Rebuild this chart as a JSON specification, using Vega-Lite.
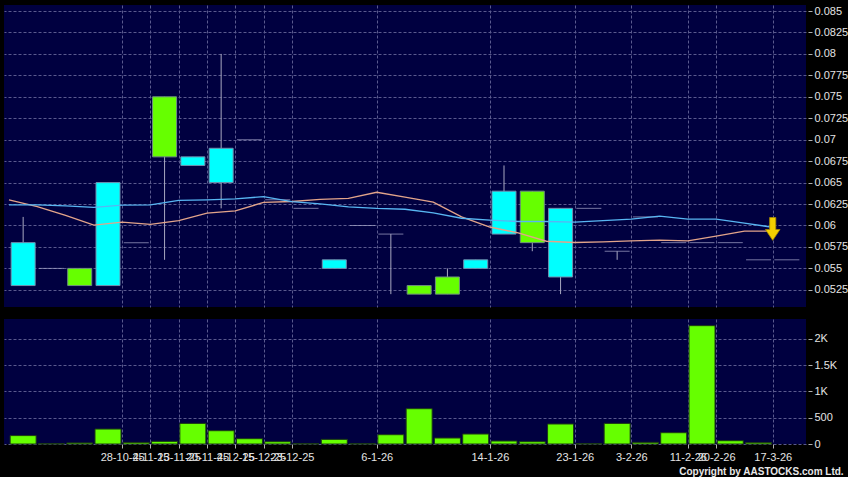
{
  "$schema": "https://vega.github.io/schema/vega-lite/v6.json",
  "background": "#000000",
  "padding": {"left": 4, "top": 5, "right": 0, "bottom": 0},
  "autosize": {"type": "pad"},
  "title": {"text": "Copyright by AASTOCKS.com Ltd.", "orient": "bottom", "anchor": "end", "font": "Liberation Sans", "fontSize": 10, "fontWeight": "bold", "color": "#e8e8e8", "offset": 5, "dx": -4},
  "config": {
    "view": {"fill": "#000040", "stroke": null},
    "axis": {"gridColor": "#5a5a8e", "gridDash": [3, 2], "gridWidth": 1, "labelColor": "#e4e4e4", "labelFont": "Liberation Sans", "labelFontSize": 11, "tickColor": "#b0b0b0", "domain": false, "title": null}
  },
  "datasets": {
    "candles": [
      {"i": 0, "o": 0.058, "h": 0.061, "l": 0.053, "c": 0.053},
      {"i": 1, "o": 0.055, "h": 0.055, "l": 0.055, "c": 0.055},
      {"i": 2, "o": 0.053, "h": 0.055, "l": 0.053, "c": 0.055},
      {"i": 3, "o": 0.065, "h": 0.065, "l": 0.053, "c": 0.053},
      {"i": 4, "o": 0.058, "h": 0.058, "l": 0.058, "c": 0.058},
      {"i": 5, "o": 0.068, "h": 0.075, "l": 0.056, "c": 0.075},
      {"i": 6, "o": 0.068, "h": 0.068, "l": 0.067, "c": 0.067},
      {"i": 7, "o": 0.069, "h": 0.080, "l": 0.062, "c": 0.065},
      {"i": 8, "o": 0.070, "h": 0.070, "l": 0.070, "c": 0.070},
      {"i": 9, "o": 0.063, "h": 0.063, "l": 0.063, "c": 0.063},
      {"i": 10, "o": 0.062, "h": 0.062, "l": 0.062, "c": 0.062},
      {"i": 11, "o": 0.056, "h": 0.056, "l": 0.055, "c": 0.055},
      {"i": 12, "o": 0.060, "h": 0.060, "l": 0.060, "c": 0.060},
      {"i": 13, "o": 0.059, "h": 0.059, "l": 0.052, "c": 0.059},
      {"i": 14, "o": 0.052, "h": 0.053, "l": 0.052, "c": 0.053},
      {"i": 15, "o": 0.052, "h": 0.055, "l": 0.052, "c": 0.054},
      {"i": 16, "o": 0.056, "h": 0.056, "l": 0.055, "c": 0.055},
      {"i": 17, "o": 0.064, "h": 0.067, "l": 0.059, "c": 0.059},
      {"i": 18, "o": 0.058, "h": 0.064, "l": 0.057, "c": 0.064},
      {"i": 19, "o": 0.062, "h": 0.062, "l": 0.052, "c": 0.054},
      {"i": 20, "o": 0.062, "h": 0.062, "l": 0.062, "c": 0.062},
      {"i": 21, "o": 0.057, "h": 0.057, "l": 0.056, "c": 0.057},
      {"i": 22, "o": 0.061, "h": 0.061, "l": 0.061, "c": 0.061},
      {"i": 23, "o": 0.058, "h": 0.058, "l": 0.058, "c": 0.058},
      {"i": 24, "o": 0.058, "h": 0.058, "l": 0.058, "c": 0.058},
      {"i": 25, "o": 0.058, "h": 0.058, "l": 0.058, "c": 0.058},
      {"i": 26, "o": 0.056, "h": 0.056, "l": 0.056, "c": 0.056},
      {"i": 27, "o": 0.056, "h": 0.056, "l": 0.056, "c": 0.056}
    ],
    "vol": [
      {"i": 0, "v": 160}, {"i": 1, "v": 5}, {"i": 2, "v": 20}, {"i": 3, "v": 285},
      {"i": 4, "v": 30}, {"i": 5, "v": 50}, {"i": 6, "v": 392}, {"i": 7, "v": 253},
      {"i": 8, "v": 101}, {"i": 9, "v": 44}, {"i": 10, "v": 5}, {"i": 11, "v": 88},
      {"i": 12, "v": 4}, {"i": 13, "v": 177}, {"i": 14, "v": 672}, {"i": 15, "v": 114},
      {"i": 16, "v": 190}, {"i": 17, "v": 57}, {"i": 18, "v": 44}, {"i": 19, "v": 381},
      {"i": 20, "v": 5}, {"i": 21, "v": 392}, {"i": 22, "v": 31}, {"i": 23, "v": 215},
      {"i": 24, "v": 2253}, {"i": 25, "v": 63}, {"i": 26, "v": 25}
    ],
    "ma": [
      {"i": -0.5, "s": "blue", "ma": 0.06240}, {"i": 0.5, "s": "blue", "ma": 0.06240},
      {"i": 1.5, "s": "blue", "ma": 0.06229}, {"i": 2.5, "s": "blue", "ma": 0.06211},
      {"i": 3.5, "s": "blue", "ma": 0.06237}, {"i": 4.5, "s": "blue", "ma": 0.06240},
      {"i": 5.5, "s": "blue", "ma": 0.06293}, {"i": 6.5, "s": "blue", "ma": 0.06299},
      {"i": 7.5, "s": "blue", "ma": 0.06310}, {"i": 8.5, "s": "blue", "ma": 0.06337},
      {"i": 9.5, "s": "blue", "ma": 0.06278}, {"i": 10.5, "s": "blue", "ma": 0.06252},
      {"i": 11.5, "s": "blue", "ma": 0.06217}, {"i": 12.5, "s": "blue", "ma": 0.06199},
      {"i": 13.5, "s": "blue", "ma": 0.06190}, {"i": 14.5, "s": "blue", "ma": 0.06147},
      {"i": 15.5, "s": "blue", "ma": 0.06085}, {"i": 16.5, "s": "blue", "ma": 0.06062},
      {"i": 17.5, "s": "blue", "ma": 0.06046}, {"i": 18.5, "s": "blue", "ma": 0.06046},
      {"i": 19.5, "s": "blue", "ma": 0.06039}, {"i": 20.5, "s": "blue", "ma": 0.06057},
      {"i": 21.5, "s": "blue", "ma": 0.06074}, {"i": 22.5, "s": "blue", "ma": 0.06109},
      {"i": 23.5, "s": "blue", "ma": 0.06074}, {"i": 24.5, "s": "blue", "ma": 0.06074},
      {"i": 25.5, "s": "blue", "ma": 0.06027}, {"i": 26.5, "s": "blue", "ma": 0.05980},
      {"i": -0.5, "s": "orange", "ma": 0.06298}, {"i": 0.5, "s": "orange", "ma": 0.06220},
      {"i": 1.5, "s": "orange", "ma": 0.06118}, {"i": 2.5, "s": "orange", "ma": 0.06004},
      {"i": 3.5, "s": "orange", "ma": 0.06039}, {"i": 4.5, "s": "orange", "ma": 0.06013},
      {"i": 5.5, "s": "orange", "ma": 0.06057}, {"i": 6.5, "s": "orange", "ma": 0.06144},
      {"i": 7.5, "s": "orange", "ma": 0.06170}, {"i": 8.5, "s": "orange", "ma": 0.06269},
      {"i": 9.5, "s": "orange", "ma": 0.06279}, {"i": 10.5, "s": "orange", "ma": 0.06304},
      {"i": 11.5, "s": "orange", "ma": 0.06316}, {"i": 12.5, "s": "orange", "ma": 0.06388},
      {"i": 13.5, "s": "orange", "ma": 0.06330}, {"i": 14.5, "s": "orange", "ma": 0.06272},
      {"i": 15.5, "s": "orange", "ma": 0.06100}, {"i": 16.5, "s": "orange", "ma": 0.05982},
      {"i": 17.5, "s": "orange", "ma": 0.05914}, {"i": 18.5, "s": "orange", "ma": 0.05817},
      {"i": 19.5, "s": "orange", "ma": 0.05801}, {"i": 20.5, "s": "orange", "ma": 0.05809},
      {"i": 21.5, "s": "orange", "ma": 0.05821}, {"i": 22.5, "s": "orange", "ma": 0.05829},
      {"i": 23.5, "s": "orange", "ma": 0.05821}, {"i": 24.5, "s": "orange", "ma": 0.05876},
      {"i": 25.5, "s": "orange", "ma": 0.05934}, {"i": 26.5, "s": "orange", "ma": 0.05934}
    ],
    "arrow": [{"i": 26.5, "y": 0.0596}]
  },
  "vconcat": [
    {
      "width": 802,
      "height": 302,
      "encoding": {
        "x": {"field": "i", "type": "quantitative", "scale": {"domain": [-0.5, 27.5], "nice": false, "zero": false},
          "axis": {"values": [3.5, 4.5, 5.5, 6.5, 7.5, 8.5, 9.5, 12.5, 16.5, 19.5, 21.5, 23.5, 24.5, 26.5], "labels": false, "ticks": false, "grid": true, "domain": false, "title": null}}
      },
      "layer": [
        {
          "data": {"name": "candles"},
          "mark": {"type": "rule", "color": "#a8a8c0", "strokeWidth": 1},
          "encoding": {
            "y": {"field": "l", "type": "quantitative", "scale": {"domain": [0.0505, 0.0857], "nice": false, "zero": false},
              "axis": {"orient": "right", "values": [0.0525, 0.055, 0.0575, 0.06, 0.0625, 0.065, 0.0675, 0.07, 0.0725, 0.075, 0.0775, 0.08, 0.0825, 0.085], "format": ".4~f", "offset": 2, "tickSize": 4, "labelPadding": 2, "grid": true, "domain": false, "title": null}},
            "y2": {"field": "h"}
          }
        },
        {
          "data": {"name": "candles"},
          "transform": [{"filter": "datum.c > datum.o"}],
          "mark": {"type": "bar", "width": 24, "color": "#66ff00", "stroke": "#6f8f7f", "strokeWidth": 1},
          "encoding": {
            "y": {"field": "o", "type": "quantitative", "scale": {"domain": [0.0505, 0.0857], "nice": false, "zero": false},
              "axis": {"orient": "right", "values": [0.0525, 0.055, 0.0575, 0.06, 0.0625, 0.065, 0.0675, 0.07, 0.0725, 0.075, 0.0775, 0.08, 0.0825, 0.085], "format": ".4~f", "offset": 2, "tickSize": 4, "labelPadding": 2, "grid": true, "domain": false, "title": null}},
            "y2": {"field": "c"}
          }
        },
        {
          "data": {"name": "candles"},
          "transform": [{"filter": "datum.c < datum.o"}],
          "mark": {"type": "bar", "width": 24, "color": "#00ffff", "stroke": "#6f8faf", "strokeWidth": 1},
          "encoding": {
            "y": {"field": "o", "type": "quantitative", "scale": {"domain": [0.0505, 0.0857], "nice": false, "zero": false},
              "axis": {"orient": "right", "values": [0.0525, 0.055, 0.0575, 0.06, 0.0625, 0.065, 0.0675, 0.07, 0.0725, 0.075, 0.0775, 0.08, 0.0825, 0.085], "format": ".4~f", "offset": 2, "tickSize": 4, "labelPadding": 2, "grid": true, "domain": false, "title": null}},
            "y2": {"field": "c"}
          }
        },
        {
          "data": {"name": "candles"},
          "transform": [{"filter": "datum.c == datum.o"}],
          "mark": {"type": "tick", "orient": "horizontal", "size": 25, "thickness": 1, "color": "#a8a8cc"},
          "encoding": {
            "y": {"field": "o", "type": "quantitative", "scale": {"domain": [0.0505, 0.0857], "nice": false, "zero": false},
              "axis": {"orient": "right", "values": [0.0525, 0.055, 0.0575, 0.06, 0.0625, 0.065, 0.0675, 0.07, 0.0725, 0.075, 0.0775, 0.08, 0.0825, 0.085], "format": ".4~f", "offset": 2, "tickSize": 4, "labelPadding": 2, "grid": true, "domain": false, "title": null}}
          }
        },
        {
          "data": {"name": "ma"},
          "transform": [{"filter": "datum.s == 'orange'"}],
          "mark": {"type": "line", "color": "#e2a48a", "strokeWidth": 1.4},
          "encoding": {
            "y": {"field": "ma", "type": "quantitative", "scale": {"domain": [0.0505, 0.0857], "nice": false, "zero": false},
              "axis": {"orient": "right", "values": [0.0525, 0.055, 0.0575, 0.06, 0.0625, 0.065, 0.0675, 0.07, 0.0725, 0.075, 0.0775, 0.08, 0.0825, 0.085], "format": ".4~f", "offset": 2, "tickSize": 4, "labelPadding": 2, "grid": true, "domain": false, "title": null}}
          }
        },
        {
          "data": {"name": "ma"},
          "transform": [{"filter": "datum.s == 'blue'"}],
          "mark": {"type": "line", "color": "#58b6f2", "strokeWidth": 1.4},
          "encoding": {
            "y": {"field": "ma", "type": "quantitative", "scale": {"domain": [0.0505, 0.0857], "nice": false, "zero": false},
              "axis": {"orient": "right", "values": [0.0525, 0.055, 0.0575, 0.06, 0.0625, 0.065, 0.0675, 0.07, 0.0725, 0.075, 0.0775, 0.08, 0.0825, 0.085], "format": ".4~f", "offset": 2, "tickSize": 4, "labelPadding": 2, "grid": true, "domain": false, "title": null}}
          }
        },
        {
          "data": {"name": "arrow"},
          "mark": {"type": "point", "shape": "M-0.27,-1L0.27,-1L0.27,0.05L0.64,0.05L0,1L-0.64,0.05L-0.27,0.05Z", "size": 520, "filled": true, "fill": "#f4d000", "stroke": "#a88c00", "strokeWidth": 0.8, "opacity": 1},
          "encoding": {
            "y": {"field": "y", "type": "quantitative", "scale": {"domain": [0.0505, 0.0857], "nice": false, "zero": false},
              "axis": {"orient": "right", "values": [0.0525, 0.055, 0.0575, 0.06, 0.0625, 0.065, 0.0675, 0.07, 0.0725, 0.075, 0.0775, 0.08, 0.0825, 0.085], "format": ".4~f", "offset": 2, "tickSize": 4, "labelPadding": 2, "grid": true, "domain": false, "title": null}}
          }
        }
      ]
    },
    {
      "width": 802,
      "height": 125,
      "data": {"name": "vol"},
      "mark": {"type": "bar", "width": 26, "color": "#66ff00", "stroke": "#1c3a14", "strokeWidth": 1},
      "encoding": {
        "x": {"field": "i", "type": "quantitative", "scale": {"domain": [-0.5, 27.5], "nice": false, "zero": false},
          "axis": {"values": [3.5, 4.5, 5.5, 6.5, 7.5, 8.5, 9.5, 12.5, 16.5, 19.5, 21.5, 23.5, 24.5, 26.5],
            "labelExpr": "['28-10-25','4-11-25','13-11-25','20-11-25','4-12-25','15-12-25','23-12-25','6-1-26','14-1-26','23-1-26','3-2-26','11-2-26','20-2-26','17-3-26'][indexof([3.5,4.5,5.5,6.5,7.5,8.5,9.5,12.5,16.5,19.5,21.5,23.5,24.5,26.5], datum.value)]",
            "labelOverlap": false, "labelBound": false, "labelFlush": false, "tickSize": 4, "labelPadding": 3, "grid": true, "domain": false, "title": null}},
        "y": {"field": "v", "type": "quantitative", "scale": {"domain": [0, 2380], "nice": false},
          "axis": {"orient": "right", "values": [0, 500, 1000, 1500, 2000], "labelExpr": "datum.value >= 1000 ? (datum.value / 1000) + 'K' : '' + datum.value", "offset": 2, "tickSize": 4, "labelPadding": 2, "grid": true, "domain": false, "title": null}}
      }
    }
  ],
  "spacing": 12,
  "bounds": "flush"
}
